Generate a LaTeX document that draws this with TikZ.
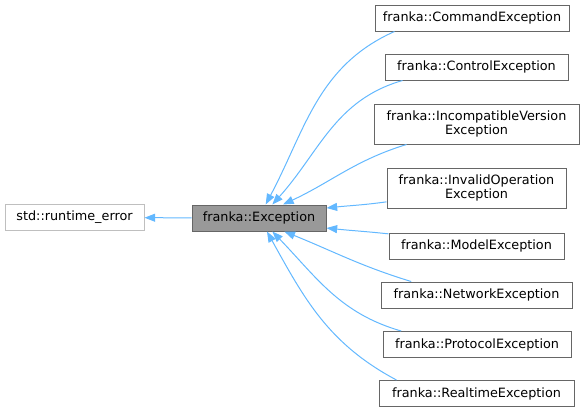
\documentclass[tikz,border=0pt]{standalone}
\usepackage{fontspec}
\setmainfont{DejaVu Sans}
\usetikzlibrary{arrows.meta,positioning}
\definecolor{edgeblue}{HTML}{63B8FF}
\definecolor{boxgray}{HTML}{666666}
\definecolor{boxlight}{HTML}{BFBFBF}
\definecolor{basefill}{HTML}{999999}

\begin{document}
\begin{tikzpicture}[
    x=0.75pt,
    y=0.75pt,
    font=\fontsize{9.6}{10.5}\selectfont,
    >={Triangle[length=8pt,width=6pt]},
    class/.style={
		rectangle,
		draw=boxgray,
		line width=0.75pt,
		align=center,
		inner xsep=0pt,
		inner ysep=0pt,
		minimum height=19.5pt,
		fill=white
	},
	twoline/.style={
		class,
		minimum height=30pt
	},
	extern/.style={
		class,
		draw=boxlight
	},
	base/.style={
		class,
		fill=basefill
	},
	inherit/.style={
		draw=edgeblue,
		line width=0.75pt,
		->
	}
  ]

 \useasboundingbox (0,0) rectangle (584,-412);

 % // base classes
 \node [extern, minimum width=104.25pt] (runtime) at (74.5,-217.5) {std::runtime\_error};
 \node [base, minimum width=100.5pt] (exception) at (259,-218) {franka::Exception};

 % // derived classes
 \node [class, minimum width=145.5pt] (command) at (472,-18) {franka::CommandException};
 \node [class, minimum width=137.25pt] (control) at (476.5,-67) {franka::ControlException};
 \node [twoline, minimum width=153.75pt] (incompat) at (476.5,-124)
 {franka::IncompatibleVersion\\Exception};
 \node [twoline, minimum width=134.25pt] (invalidop) at (476.5,-188)
 {franka::InvalidOperation\\Exception};
 \node [class, minimum width=131.25pt] (model) at (476.5,-246) {franka::ModelException};
 \node [class, minimum width=143.25pt] (network) at (476.5,-295) {franka::NetworkException};
 \node [class, minimum width=141pt] (protocol) at (477,-344.5) {franka::ProtocolException};
 \node [class, minimum width=146.25pt] (realtime) at (476.5,-393.5) {franka::RealtimeException};

 \draw [inherit] (exception) -- (runtime);

 \draw [inherit] ([xshift=15pt]command.south west) to [out=204, in=62] ([xshift=5pt]exception.north);
 \draw [inherit] ([xshift=13.5pt]control.south west) to [out=196, in=48] ([xshift=10pt]exception.north);
 \draw [inherit] ([xshift=24.75pt]incompat.south west) to [out=197, in=25] ([xshift=18pt]exception.north);
 \draw [inherit] ([yshift=5pt]invalidop.south west) to [out=188, in=6] ([yshift=7.5pt]exception.east);

 \draw [inherit] ([yshift=-1pt]model.north west) to [out=174, in=-6] ([yshift=-7.5pt]exception.east);
 \draw [inherit] ([xshift=23pt]network.north west) to [out=163, in=-22] ([xshift=19pt]exception.south);
 \draw [inherit] ([xshift=14pt]protocol.north west) to [out=164, in=-46] ([xshift=10pt]exception.south);
 \draw [inherit] ([xshift=13.5pt]realtime.north west) to [out=152, in=-61] ([xshift=6pt]exception.south);

\end{tikzpicture}
\end{document}
